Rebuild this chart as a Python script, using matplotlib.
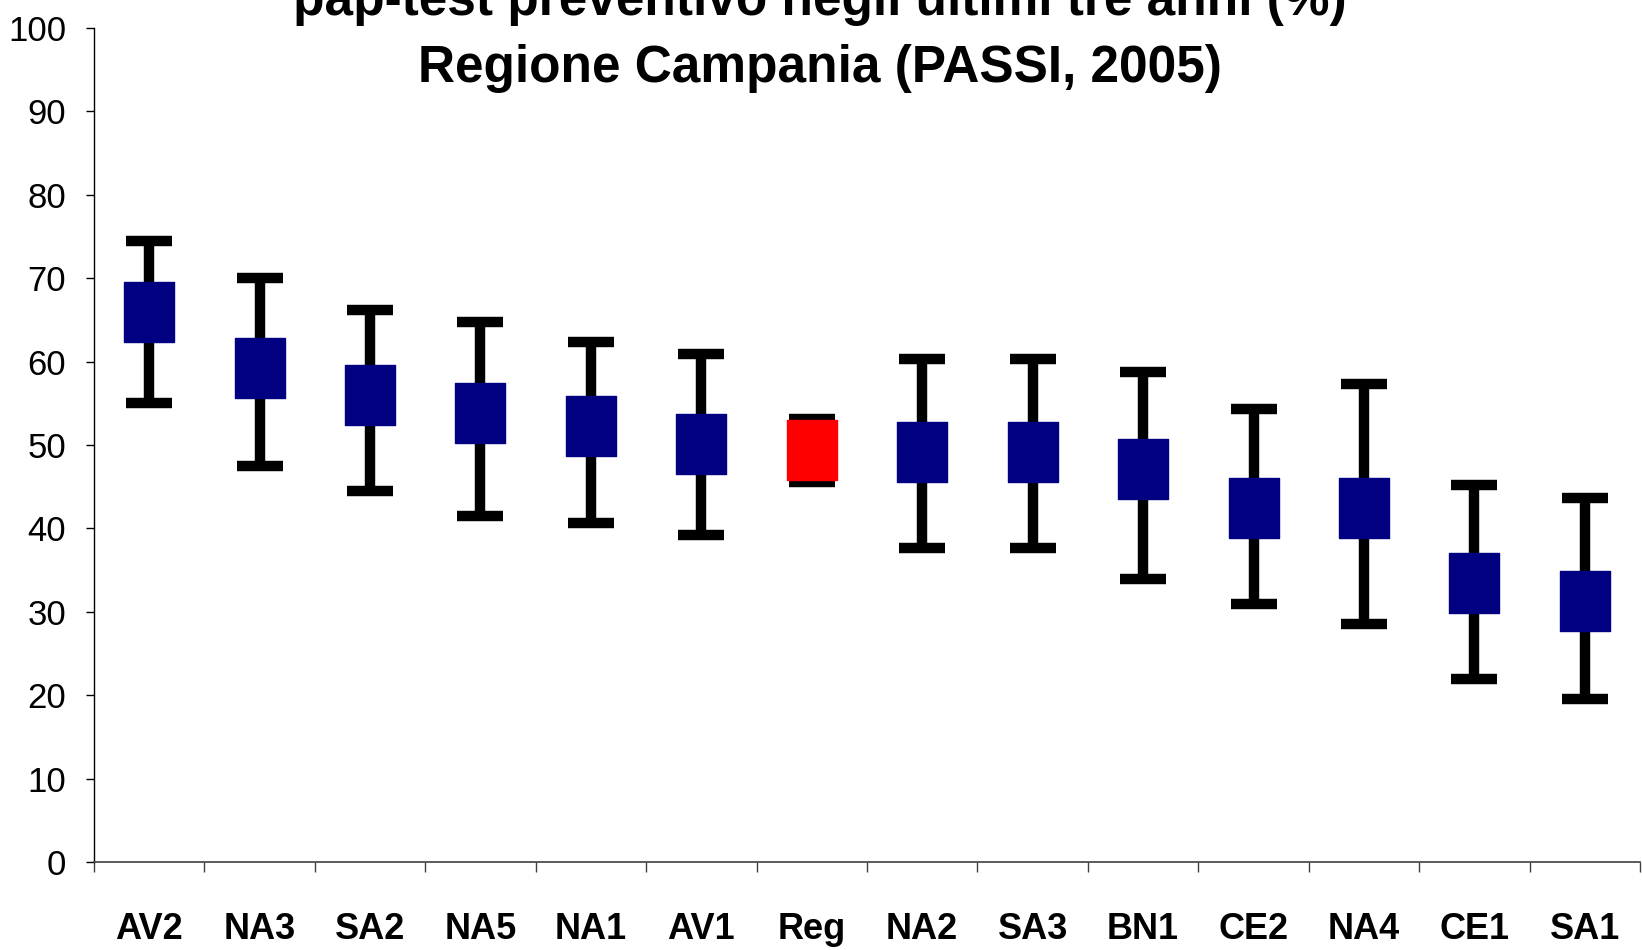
import matplotlib.pyplot as plt
from matplotlib.path import Path
import numpy as np

# Data (%, with 95% CI)
ASL = ["AV2", "NA3", "SA2", "NA5", "NA1", "AV1", "Reg",
       "NA2", "SA3", "BN1", "CE2", "NA4", "CE1", "SA1"]
valore = [65.9, 59.2, 56.0, 53.8, 52.3, 50.1, 49.4,
          49.2, 49.2, 47.1, 42.5, 42.5, 33.5, 31.3]
ic_inf = [55.0, 47.5, 44.5, 41.5, 40.7, 39.2, 45.6,
          37.7, 37.7, 33.9, 30.9, 28.6, 21.9, 19.6]
ic_sup = [74.5, 70.0, 66.2, 64.8, 62.4, 60.9, 53.1,
          60.3, 60.3, 58.8, 54.3, 57.3, 45.2, 43.7]

TITLE_1 = "pap-test preventivo negli ultimi tre anni (%)"
TITLE_2 = "Regione Campania (PASSI, 2005)"

plt.rcParams['font.family'] = ["Liberation Sans", "DejaVu Sans"]

x = np.arange(len(ASL))
val = np.array(valore)
lo = val - np.array(ic_inf)
hi = np.array(ic_sup) - val

# slightly tall rectangle marker
box = Path([(-0.42, -0.5), (0.42, -0.5), (0.42, 0.5), (-0.42, 0.5), (-0.42, -0.5)],
           [Path.MOVETO, Path.LINETO, Path.LINETO, Path.LINETO, Path.CLOSEPOLY])

fig = plt.figure(figsize=(16.42, 9.5), dpi=100)
ax = fig.add_axes([0.0572, 0.0926, 0.9416, 0.8779])

colori = ["#FF0000" if a == "Reg" else "#000080" for a in ASL]
ax.errorbar(x, val, yerr=[lo, hi], fmt='none', ecolor='black',
            elinewidth=7.5, capsize=16.5, capthick=7.5, zorder=2)
for xi, v, c in zip(x, val, colori):
    ax.plot(xi, v, marker=box, markersize=43, color=c, mec=c, zorder=3)

ax.set_xlim(-0.5, len(ASL) - 0.5)
ax.set_ylim(0, 100)
ax.set_yticks(range(0, 101, 10))
ax.tick_params(axis='y', length=6, width=1, pad=14, labelsize=25)

ax.set_xticks(x)
ax.set_xticklabels(ASL, fontsize=26, fontweight='bold')
ax.set_xticks(np.arange(-0.5, len(ASL)), minor=True)
ax.tick_params(axis='x', which='major', length=0, pad=36)
ax.tick_params(axis='x', which='minor', length=7.5, width=1, color='#404040')

for s in ['top', 'right']:
    ax.spines[s].set_visible(False)
ax.spines['left'].set_linewidth(1)
ax.spines['bottom'].set_linewidth(1.2)
ax.spines['bottom'].set_color('#404040')

fig.text(0.4995, 0.984, TITLE_1, ha='center', va='baseline',
         fontsize=37, fontweight='bold')
fig.text(0.4995, 0.9137, TITLE_2, ha='center', va='baseline',
         fontsize=37, fontweight='bold')

fig.savefig("out.png", dpi=100)
